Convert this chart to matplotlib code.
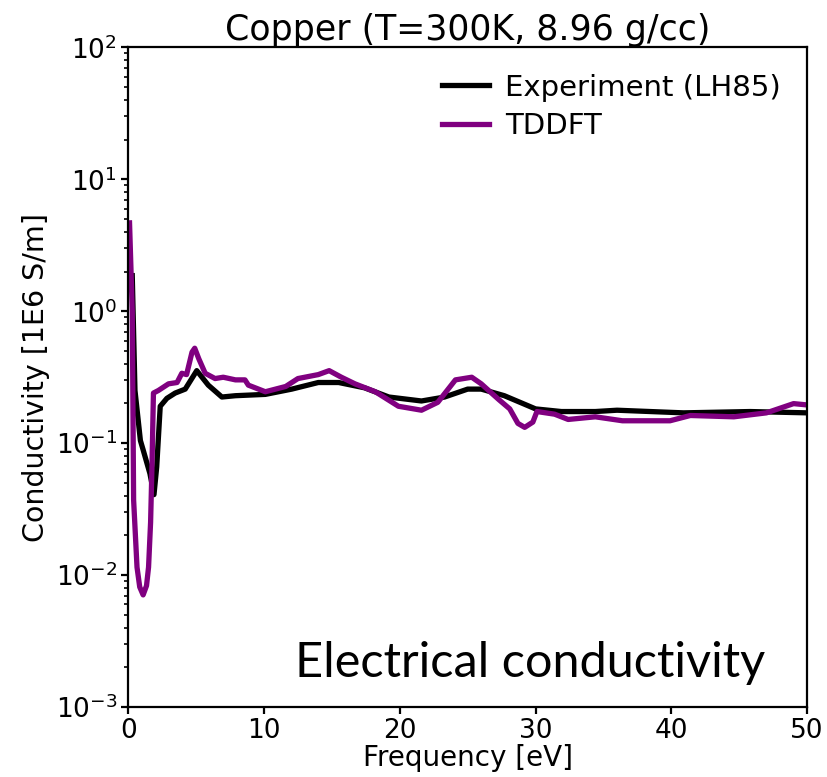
import numpy as np
import matplotlib
matplotlib.use("Agg")
import matplotlib.pyplot as plt

# Experimental conductivity (LH85): frequency in eV, log10 of conductivity in 1E6 S/m
exp_freq = [0.3, 0.5, 0.9, 1.1, 1.6, 1.9, 2.1, 2.36, 2.85, 3.46, 4.2, 5.05, 5.9, 6.9,
            7.9, 10.1, 12.05, 14.0, 15.5, 17.4, 19.2, 21.6, 23.3, 25.0, 26.0, 27.7,
            30.0, 31.9, 34.4, 36.0, 40.9, 45.8, 50.0]
exp_log = [0.27, -0.6, -0.98, -1.05, -1.23, -1.39, -1.18, -0.72, -0.66, -0.62, -0.59,
           -0.45, -0.56, -0.65, -0.64, -0.63, -0.59, -0.54, -0.54, -0.58, -0.65, -0.68,
           -0.65, -0.59, -0.59, -0.64, -0.74, -0.76, -0.76, -0.75, -0.77, -0.76, -0.77]

# TDDFT conductivity
tddft_freq = [0.1, 0.3, 0.4, 0.65, 0.85, 1.1, 1.35, 1.5, 1.65, 1.75, 1.86, 2.23, 2.97,
              3.6, 3.95, 4.3, 4.7, 4.9, 5.2, 5.67, 6.4, 7.0, 7.9, 8.6, 8.85, 10.1, 11.6,
              12.5, 14.0, 14.8, 15.7, 16.7, 18.2, 19.9, 21.6, 22.8, 24.1, 25.3, 26.0,
              27.3, 28.1, 28.7, 29.2, 29.8, 30.1, 31.4, 32.4, 34.4, 36.4, 39.9, 41.4,
              44.6, 47.0, 49.0, 50.0]
tddft_log = [0.67, 0.0, -1.43, -1.94, -2.09, -2.15, -2.08, -1.94, -1.6, -1.18, -0.62,
             -0.60, -0.55, -0.54, -0.47, -0.48, -0.31, -0.28, -0.36, -0.47, -0.51, -0.50,
             -0.52, -0.52, -0.56, -0.61, -0.57, -0.51, -0.48, -0.45, -0.50, -0.55, -0.61,
             -0.72, -0.75, -0.69, -0.52, -0.50, -0.55, -0.67, -0.74, -0.85, -0.88, -0.84,
             -0.76, -0.78, -0.82, -0.80, -0.83, -0.83, -0.79, -0.80, -0.77, -0.70, -0.71]

exp_sigma = 10.0 ** np.array(exp_log)
tddft_sigma = 10.0 ** np.array(tddft_log)

fig = plt.figure(figsize=(8.27, 7.77), dpi=100)
ax = fig.add_axes([0.155, 0.090, 0.821, 0.849])

ax.plot(exp_freq, exp_sigma, color="black", lw=3.8, label="Experiment (LH85)")
ax.plot(tddft_freq, tddft_sigma, color="purple", lw=3.8, label="TDDFT")

ax.set_yscale("log")
ax.set_xlim(0, 50)
ax.set_ylim(1e-3, 1e2)
ax.set_xticks([0, 10, 20, 30, 40, 50])

for s in ax.spines.values():
    s.set_linewidth(1.6)
ax.tick_params(axis="both", which="major", labelsize=19, width=1.6, length=5, pad=3)
ax.tick_params(axis="y", which="minor", width=1.2, length=3)

ax.set_xlabel("Frequency [eV]", fontsize=20, labelpad=0)
ax.set_ylabel("Conductivity [1E6 S/m]", fontsize=20.5, labelpad=4)
ax.set_title("Copper (T=300K, 8.96 g/cc)", fontsize=25, pad=3)

ax.legend(loc="upper right", frameon=False, fontsize=21, handlelength=1.6,
          handletextpad=0.55, labelspacing=0.35, borderaxespad=0.5)

ax.text(0.938, 0.045, "Electrical conductivity", transform=ax.transAxes,
        ha="right", va="baseline", fontsize=35, family="Lato")

fig.savefig("out.png", dpi=100)
